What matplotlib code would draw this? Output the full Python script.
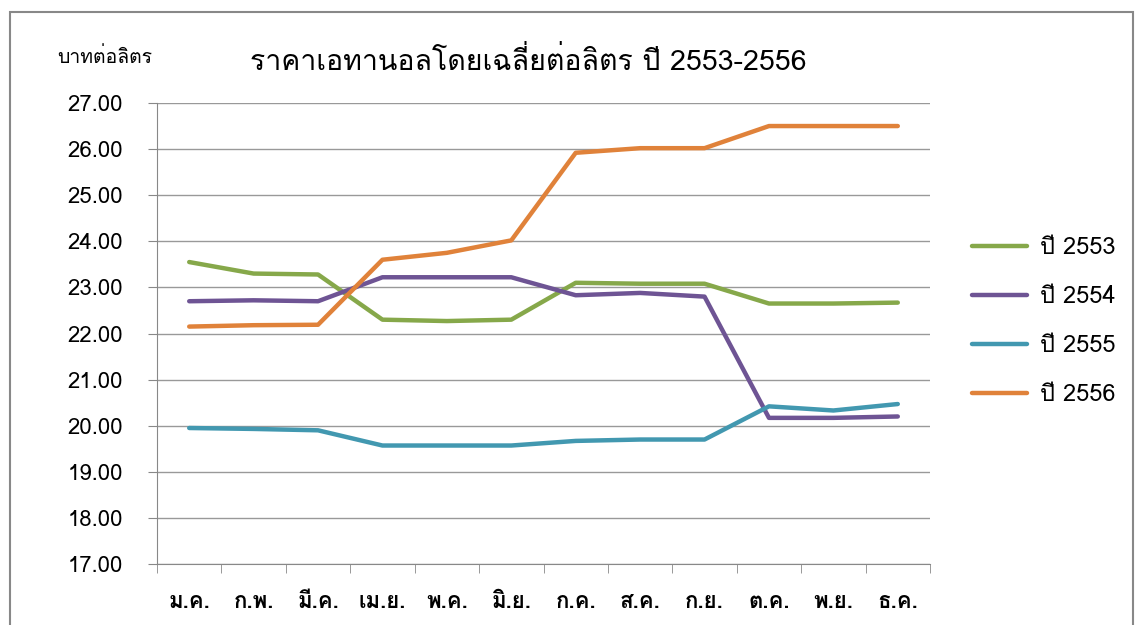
import numpy as np
import matplotlib
matplotlib.use("Agg")
import matplotlib.pyplot as plt
from matplotlib.patches import Rectangle

# data
months = ["ม.ค.", "ก.พ.", "มี.ค.", "เม.ย.", "พ.ค.", "มิ.ย.",
          "ก.ค.", "ส.ค.", "ก.ย.", "ต.ค.", "พ.ย.", "ธ.ค."]
series_names = ["ปี 2553", "ปี 2554", "ปี 2555", "ปี 2556"]
y2553 = [23.55, 23.30, 23.28, 22.30, 22.27, 22.30, 23.10, 23.08, 23.08, 22.65, 22.65, 22.67]
y2554 = [22.70, 22.72, 22.70, 23.22, 23.22, 23.22, 22.83, 22.88, 22.80, 20.17, 20.17, 20.20]
y2555 = [19.95, 19.93, 19.90, 19.57, 19.57, 19.57, 19.67, 19.70, 19.70, 20.42, 20.33, 20.47]
y2556 = [22.15, 22.18, 22.19, 23.60, 23.75, 24.02, 25.92, 26.02, 26.02, 26.50, 26.50, 26.50]
colors = ["#86a84a", "#6e5494", "#4298b0", "#e0823a"]

# Loma is a Tahoma-like Thai face
plt.rcParams["font.family"] = ["Loma", "DejaVu Sans"]

fig = plt.figure(figsize=(11.41, 6.25), dpi=100)
fig.patches.append(Rectangle((10 / 1141, -0.01), 1123 / 1141, 1 - 12 / 625 + 0.01,
                             transform=fig.transFigure, fill=False,
                             edgecolor="#888888", linewidth=1.5))
ax = fig.add_axes([157 / 1141, 1 - 564 / 625, (930 - 157) / 1141, (564 - 103) / 625])

x = np.arange(len(months))
for vals, name, c in zip([y2553, y2554, y2555, y2556], series_names, colors):
    ax.plot(x, vals, color=c, linewidth=3.2, label=name, solid_capstyle="round")

ax.set_xlim(-0.5, len(months) - 0.5)
ax.set_ylim(17, 27)
yt = np.arange(17, 28, 1)
ax.set_yticks(yt)
ax.set_yticklabels([f"{v:.2f}" for v in yt], fontsize=16)
ax.set_xticks(x)
ax.set_xticklabels(months, fontsize=16, fontweight="bold")
ax.set_xticks(np.arange(-0.5, len(months), 1), minor=True)
ax.tick_params(axis="x", which="major", length=0, pad=20)
ax.tick_params(axis="x", which="minor", length=6.5, color="#888888", direction="out")
ax.tick_params(axis="y", length=6.5, color="#888888", pad=18)
ax.grid(axis="y", color="#999999", linewidth=1)
ax.set_axisbelow(True)
for s in ["top", "right"]:
    ax.spines[s].set_visible(False)
for s in ["left", "bottom"]:
    ax.spines[s].set_color("#888888")

fig.text(528 / 1141, 1 - 62 / 625, "ราคาเอทานอลโดยเฉลี่ยต่อลิตร ปี 2553-2556",
         ha="center", va="center", fontsize=20.5)
fig.text(57 / 1141, 1 - 57 / 625, "บาทต่อลิตร", ha="left", va="center", fontsize=14)

ax.legend(loc="upper left", bbox_to_anchor=(972 / 1141, 1 - 236 / 625),
          bbox_transform=fig.transFigure, frameon=False, fontsize=17,
          borderaxespad=0, borderpad=0, handlelength=2.33, handletextpad=0.55,
          labelspacing=1.1)

fig.savefig("out.png", dpi=100)
